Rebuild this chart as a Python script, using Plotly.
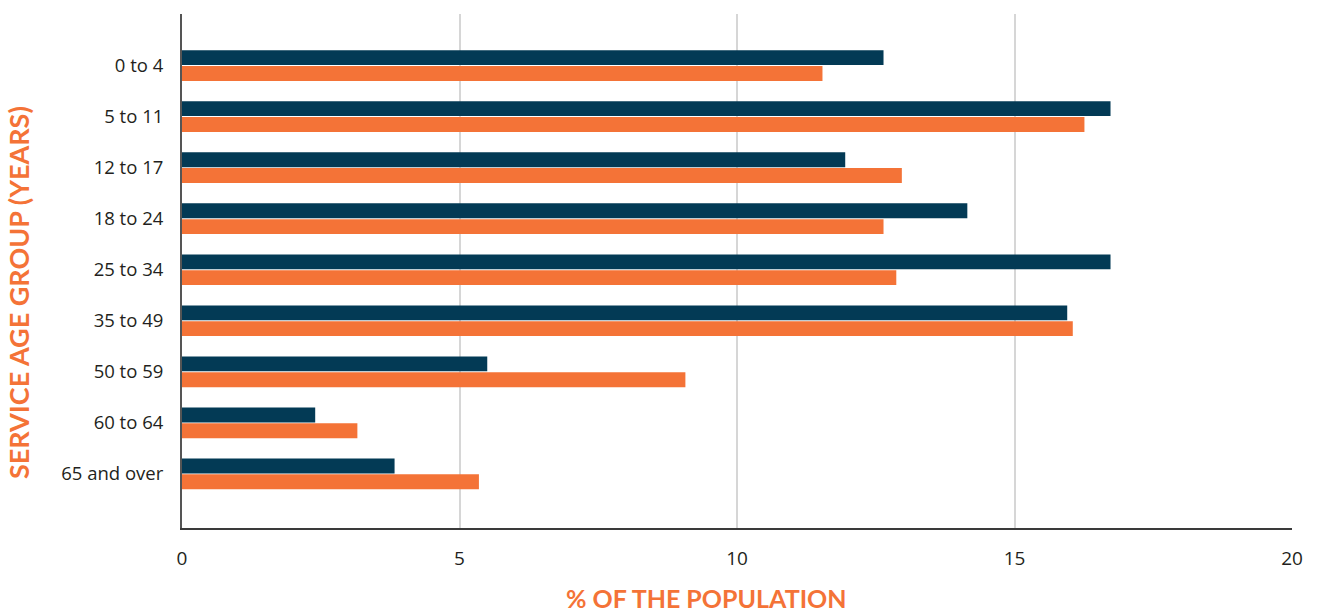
import plotly.graph_objects as go

# Age bands and share of population in each (percent)
age_groups = ["0 to 4", "5 to 11", "12 to 17", "18 to 24", "25 to 34",
              "35 to 49", "50 to 59", "60 to 64", "65 and over"]
service_pct = [12.64, 16.73, 11.95, 14.15, 16.73, 15.95, 5.50, 2.40, 3.83]
general_pct = [11.54, 16.26, 12.97, 12.64, 12.87, 16.05, 9.07, 3.16, 5.35]

x_ticks = [0, 5, 10, 15, 20]

DARK = "#033A55"
ORANGE = "#F47337"
TEXT_FONT = "Open Sans"
TITLE_FONT = "Lato"

fig = go.Figure()
fig.add_trace(go.Bar(y=age_groups, x=service_pct, orientation="h",
                     name="Service population", marker=dict(color=DARK, line=dict(width=0))))
fig.add_trace(go.Bar(y=age_groups, x=general_pct, orientation="h",
                     name="General population", marker=dict(color=ORANGE, line=dict(width=0))))

fig.update_layout(
    width=1319, height=615,
    margin=dict(l=182, r=27, t=14, b=87),
    paper_bgcolor="white", plot_bgcolor="white",
    barmode="group", bargap=0.38, bargroupgap=0.06,
    showlegend=False,
    font=dict(family=TEXT_FONT, size=19, color="#231f20"),
)
fig.update_xaxes(
    range=[0, 20], tickvals=x_ticks, ticktext=[str(v) for v in x_ticks],
    showgrid=True, gridcolor="#d6d6d6", gridwidth=2,
    zeroline=False, showline=True, linecolor="#3a3a3a", linewidth=2,
    ticks="", ticklabelstandoff=12,
    tickfont=dict(family=TEXT_FONT, size=19, color="#231f20"),
)
fig.update_yaxes(
    type="category", categoryorder="array", categoryarray=age_groups,
    range=[9.06, -1.01],
    showgrid=False, zeroline=False, showline=True, linecolor="#555555", linewidth=2,
    ticks="", ticklabelstandoff=13,
    tickfont=dict(family=TEXT_FONT, size=18.5, color="#231f20"),
)

# Axis titles
fig.add_annotation(text="% OF THE POPULATION", xref="paper", yref="paper",
                   x=(706 - 182) / (1292 - 182), y=-(598 - 528) / (528 - 14),
                   xanchor="center", yanchor="middle", showarrow=False,
                   font=dict(family=TITLE_FONT, size=25, color=ORANGE, weight="bold"))
fig.add_annotation(text="SERVICE AGE GROUP (YEARS)", xref="paper", yref="paper",
                   x=-(182 - 18) / (1292 - 182), y=(528 - 293) / (528 - 14),
                   xanchor="center", yanchor="middle", textangle=-90, showarrow=False,
                   font=dict(family=TITLE_FONT, size=27, color=ORANGE, weight="bold"))

fig.write_html("out.html")
